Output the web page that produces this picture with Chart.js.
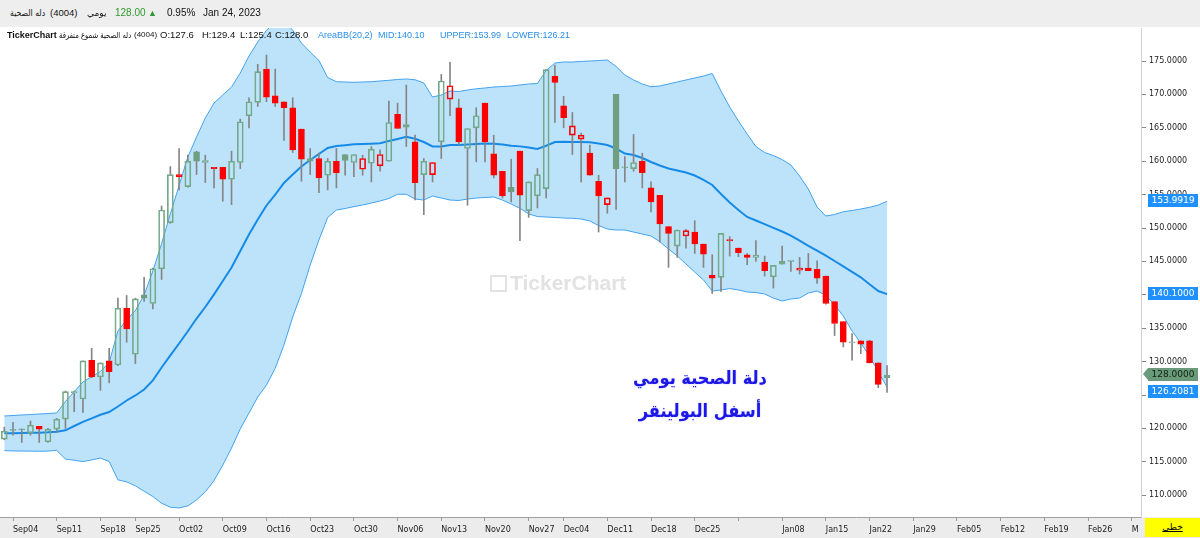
<!DOCTYPE html>
<html><head><meta charset="utf-8">
<script src="https://cdn.jsdelivr.net/npm/chart.js@4.4.1/dist/chart.umd.min.js"></script>
<style>
html,body{margin:0;padding:0;background:#fff;}
#wrap{position:relative;width:1200px;height:538px;overflow:hidden;background:#fff;font-family:"Liberation Sans",Arial,sans-serif;}
#hdr{position:absolute;left:0;top:0;width:1200px;height:27px;background:#eeeeee;}
#xbg{position:absolute;left:0;top:517px;width:1200px;height:21px;background:#ececec;}
#cbox{position:absolute;left:0;top:27px;width:1200px;height:511px;}
.t{position:absolute;white-space:nowrap;font-size:10px;line-height:12px;color:#111;}
.s{font-size:9.5px;}
.b{color:#2a8fe6;font-size:9px;}
.ar{unicode-bidi:isolate;direction:rtl;font-family:"DejaVu Sans",sans-serif;font-size:9px;transform-origin:0 50%;}
.lbl{position:absolute;left:1148px;width:50px;height:13px;line-height:13px;font-size:9px;font-family:"DejaVu Sans",sans-serif;text-align:center;color:#fff;background:#1e90ff;}
.note{position:absolute;left:600px;width:200px;text-align:center;font-family:"DejaVu Sans",sans-serif;font-weight:bold;font-size:18px;line-height:22px;color:#1c16e6;text-shadow:0 0 2px #c8c8ff;direction:rtl;transform:scaleX(0.9);}
</style></head>
<body>
<div id="wrap">
  <div id="hdr"></div>
  <div id="xbg"></div>
  <div id="cbox"><canvas id="c"></canvas></div>

  <span class="t ar" style="left:10px;top:7px;transform:scaleX(0.86);">دله الصحية</span>
  <span class="t s" style="left:50px;top:7px;">(4004)</span>
  <span class="t ar" style="left:87px;top:7px;">يومي</span>
  <span class="t" style="left:115px;top:7px;color:#2e9a2e;">128.00</span>
  <span class="t" style="left:148px;top:7px;color:#2e9a2e;font-size:9px;">▲</span>
  <span class="t" style="left:167px;top:7px;">0.95%</span>
  <span class="t" style="left:203px;top:7px;">Jan 24, 2023</span>

  <span class="t" style="left:7px;top:29px;font-weight:bold;font-size:9px;">TickerChart</span>
  <span class="t ar" style="left:59px;top:29px;font-size:8.5px;transform:scaleX(0.8);">دله الصحية شموع متفرقة</span>
  <span class="t" style="left:134px;top:29px;font-size:8px;">(4004)</span>
  <span class="t s" style="left:160px;top:29px;">O:127.6</span>
  <span class="t s" style="left:202px;top:29px;">H:129.4</span>
  <span class="t s" style="left:240px;top:29px;">L:125.4</span>
  <span class="t s" style="left:275px;top:29px;">C:128.0</span>
  <span class="t b" style="left:318px;top:29px;">AreaBB(20,2)</span>
  <span class="t b" style="left:378px;top:29px;">MID:140.10</span>
  <span class="t b" style="left:440px;top:29px;">UPPER:153.99</span>
  <span class="t b" style="left:507px;top:29px;">LOWER:126.21</span>

  <div style="position:absolute;left:490px;top:275px;width:13px;height:13px;border:2px solid #e2e2e2;"></div>
  <span class="t" style="left:510px;top:271px;font-size:21px;line-height:24px;font-weight:bold;color:#e2e2e2;">TickerChart</span>

  <div class="note" style="top:367px;">دلة الصحية يومي</div>
  <div class="note" style="top:400px;">أسفل البولينقر</div>

  <div style="position:absolute;left:1145px;top:518px;width:55px;height:19px;background:#ffff00;text-align:center;line-height:19px;font-size:9px;font-family:'DejaVu Sans',sans-serif;text-decoration:underline;">خطي</div>
  <div id="labels"></div>
</div>
<script>
// ---- data (daily candles, Aug 31 2022 .. Jan 24 2023) ----
const openP = [118.4,119.7,119.8,119.3,120.3,118.0,119.9,121.4,125.3,124.4,
130.2,127.7,130.1,129.5,138.0,131.1,140.0,138.7,143.9,150.8,
158.0,156.2,161.4,159.8,159.1,159.1,157.3,159.8,166.8,168.8,
173.8,169.8,168.9,168.0,164.8,160.0,160.4,157.9,160.0,161.0,
159.8,158.8,159.7,159.3,160.0,167.0,165.1,162.9,158.0,158.0,
162.9,169.3,168.0,161.9,165.0,168.7,161.1,158.5,156.1,161.5,
152.6,154.8,155.9,172.7,168.3,163.9,163.3,161.2,157.0,153.5,
170.0,159.0,158.9,160.0,156.0,154.9,150.2,147.3,148.8,149.4,
147.6,142.9,142.6,148.1,147.0,146.0,145.6,144.9,142.7,144.6,
145.0,143.7,144.0,143.8,142.8,139.0,136.0,132.8,133.1,133.1,
129.8,127.6];
const highP = [120.2,120.9,119.9,121.1,120.3,120.0,121.5,125.6,125.6,130.1,
132.0,129.8,132.0,139.5,139.9,139.5,142.6,144.0,153.3,159.2,
161.9,160.9,161.5,160.9,159.1,159.1,161.5,166.3,169.5,174.5,
175.9,173.8,168.9,169.5,164.8,161.9,161.2,160.4,161.9,161.0,
161.0,160.9,162.2,161.7,169.0,168.7,171.4,163.9,160.4,159.8,
173.0,174.8,169.3,164.9,168.0,168.7,163.9,158.5,160.3,161.5,
156.9,158.9,173.7,174.4,169.7,167.3,164.2,162.4,157.9,154.5,
170.0,160.7,164.0,161.2,156.9,154.9,150.2,149.7,149.8,151.1,
147.6,146.0,149.2,148.7,147.0,146.2,148.1,145.8,144.4,147.3,
145.0,145.6,146.2,145.1,142.8,139.0,136.0,134.2,133.1,133.2,
129.8,129.4];
const lowP = [118.3,119.0,117.9,119.0,117.9,117.9,119.4,120.0,122.5,122.4,
127.6,125.7,126.8,129.4,132.9,129.7,139.0,137.9,142.3,150.7,
155.7,156.1,158.0,156.8,156.0,154.0,153.5,158.9,165.0,168.2,
168.9,168.2,163.1,161.3,157.0,158.0,155.3,155.7,156.0,157.9,
157.7,157.9,156.9,158.5,160.0,164.9,162.2,154.2,152.0,156.9,
160.4,166.8,162.4,153.4,159.9,159.9,157.5,154.5,153.9,148.1,
151.6,153.0,154.5,165.8,165.0,161.0,156.9,157.9,149.4,152.2,
152.8,156.9,158.5,156.0,152.4,147.9,144.1,145.6,147.0,146.2,
144.1,140.2,140.5,145.8,145.7,144.5,145.0,142.8,141.0,144.6,
143.5,143.1,143.6,141.7,138.6,133.9,132.2,130.2,131.2,129.8,
126.1,125.4];
const closeP = [119.6,119.8,119.8,120.5,119.9,119.9,121.4,125.5,125.5,130.1,
127.7,129.8,128.5,138.0,134.9,139.4,139.5,143.9,152.7,158.0,
157.7,160.0,160.0,160.1,158.9,157.3,160.0,165.9,168.9,173.4,
169.6,168.7,168.0,161.7,160.3,160.4,157.5,160.0,158.3,160.1,
161.0,160.4,161.8,161.0,165.8,164.9,165.5,156.8,160.0,159.8,
172.0,171.3,162.9,164.9,166.8,162.9,157.9,154.8,155.4,154.9,
156.9,158.0,173.7,171.8,166.5,165.3,163.9,157.9,154.8,154.5,
158.9,159.0,159.8,158.3,153.9,150.6,149.2,149.7,149.6,147.6,
146.1,142.5,149.2,148.1,146.3,145.6,145.9,143.6,144.4,145.0,
145.0,144.0,143.6,142.5,138.7,135.7,132.9,132.9,132.6,129.8,
126.6,128.0];
// Bollinger band (20,2)
const bbUpper = [121.86,121.93,122.01,122.08,122.16,122.23,122.31,124.03,125.49,126.95,
127.74,128.52,129.87,134.58,136.23,137.65,139.97,143.56,147.68,152.10,
156.36,160.63,163.62,166.47,168.71,169.91,171.11,173.20,175.75,177.84,
179.6,180.8,181.0,179.6,177.69,176.35,175.07,172.53,171.90,171.86,
171.81,171.86,171.90,172.01,172.11,172.23,172.31,172.19,171.71,169.61,
169.91,170.51,170.43,170.66,170.84,170.96,171.11,171.18,171.26,171.41,
171.56,171.63,173.58,174.70,174.85,174.85,174.93,175.00,175.07,175.15,
174.18,172.90,172.16,171.56,171.15,171.26,171.56,171.86,172.16,172.46,
172.75,173.13,170.51,168.11,166.02,164.07,162.20,161.30,160.85,160.25,
159.43,157.78,155.84,153.14,151.80,152.02,152.44,152.62,152.84,153.10,
153.44,153.9919];
const bbMid = [119.27,119.28,119.31,119.34,119.37,119.42,119.51,119.72,120.36,120.99,
121.51,122.04,122.46,123.28,124.18,124.93,125.82,127.20,129.12,130.94,
132.71,134.54,136.45,138.17,140.07,142.07,144.09,146.56,149.03,151.27,
153.37,155.01,156.74,158.01,159.21,160.18,161.08,161.98,162.28,162.40,
162.53,162.57,162.63,162.68,163.02,163.32,163.65,163.35,162.87,162.20,
162.20,162.43,162.43,162.49,162.57,162.65,162.62,162.49,162.32,162.22,
162.05,161.84,162.31,162.87,162.90,162.87,162.86,162.83,162.65,162.43,
161.90,161.15,160.93,160.48,159.88,159.36,158.91,158.61,158.31,157.86,
157.19,156.44,155.09,153.82,152.69,151.65,151.12,150.57,150.03,149.48,
148.85,148.10,147.34,146.60,145.85,145.06,144.27,143.44,142.62,141.57,
140.57,140.1000];
const bbLower = [116.68,116.63,116.61,116.60,116.58,116.61,116.71,115.41,115.23,115.03,
115.28,115.56,115.05,112.30,112.00,111.40,110.60,109.80,108.80,108.20,
108.10,108.40,109.30,110.50,112.20,114.50,117.07,119.92,122.31,124.70,
126.50,129.00,132.48,136.68,140.20,144.46,148.20,151.57,152.69,152.92,
153.20,153.44,153.74,154.04,154.42,155.05,155.05,154.34,154.19,154.79,
154.49,154.19,154.12,154.34,154.49,154.57,154.64,154.19,153.59,152.95,
152.10,151.72,151.65,151.57,151.50,151.45,151.35,151.05,150.37,149.85,
149.70,149.70,149.40,149.10,148.80,147.95,146.86,145.81,144.61,143.41,
142.22,140.57,140.72,140.94,140.72,140.42,140.34,140.12,139.52,139.07,
139.37,139.52,140.27,140.57,139.97,138.47,136.83,134.58,132.78,130.84,
128.44,126.2081];
// axis ticks
const xTickIdx = [1,6,11,15,20,25,30,35,40,45,50,55,60,64,69,74,79,84,89,94,99,104,109,114,119,124,129];
const xTickLabels = ['Sep04','Sep11','Sep18','Sep25','Oct02','Oct09','Oct16','Oct23','Oct30','Nov06','Nov13','Nov20','Nov27','Dec04','Dec11','Dec18','Dec25','','Jan08','Jan15','Jan22','Jan29','Feb05','Feb12','Feb19','Feb26','M'];
const yTicks = [110,115,120,125,130,135,140,145,150,155,160,165,170,175];

// ---- build ----
const GREEN = '#6f9f80', GREEN_B = '#74a888', RED = '#ff0000', WICK = '#858585';
const n = closeP.length;
const idx = closeP.map((_, i) => i);
const isUp = i => closeP[i] >= openP[i];
const isGreen = i => i === 0 ? true : closeP[i] >= closeP[i - 1];
const bodyData = idx.map(i => ({x: i, y: [openP[i], closeP[i]]}));
const wickHi = idx.map(i => ({x: i, y: [Math.max(openP[i], closeP[i]), highP[i]]}));
const wickLo = idx.map(i => ({x: i, y: [lowP[i], Math.min(openP[i], closeP[i])]}));
const line = arr => arr.map((v, i) => ({x: i, y: v}));

const labelsPlugin = {
  id: 'axisLabels',
  afterRender(chart) {
    if (chart._lblDone) return; chart._lblDone = true;
    const ys = chart.scales.y, off = 27;
    const items = [
      {v: bbUpper[n-1], bg: '#1e90ff', fg: '#fff'},
      {v: bbMid[n-1], bg: '#1e90ff', fg: '#fff'},
      {v: closeP[n-1], bg: '#6a9a7a', fg: '#102010', arrow: true},
      {v: bbLower[n-1], bg: '#1e90ff', fg: '#fff'}
    ];
    const host = document.getElementById('labels');
    let prevBottom = -1e9;
    items.forEach(it => {
      let top = ys.getPixelForValue(it.v) + off - 7;
      if (top < prevBottom + 3) top = prevBottom + 3;
      prevBottom = top + 14;
      const d = document.createElement('div');
      d.className = 'lbl';
      d.style.top = top + 'px';
      d.style.background = it.bg; d.style.color = it.fg;
      d.textContent = it.v.toFixed(4);
      if (it.arrow) {
        const a = document.createElement('div');
        a.style.cssText = 'position:absolute;left:-5px;top:0;width:0;height:0;border-top:6.5px solid transparent;border-bottom:6.5px solid transparent;border-right:5px solid ' + it.bg + ';';
        d.appendChild(a);
      }
      host.appendChild(d);
    });
  }
};

new Chart(document.getElementById('c'), {
  type: 'bar',
  data: {
    datasets: [
      {type: 'line', data: line(bbUpper), borderColor: '#42a2f0', borderWidth: 1, pointRadius: 0, fill: 2, backgroundColor: '#bde3fb', order: 10},
      {type: 'line', data: line(bbMid), borderColor: '#168ae8', borderWidth: 2, pointRadius: 0, fill: false, order: 8},
      {type: 'line', data: line(bbLower), borderColor: '#42a2f0', borderWidth: 1, pointRadius: 0, fill: false, order: 9},
      {data: wickHi, backgroundColor: WICK, barThickness: 1, grouped: false, borderWidth: 0, order: 3},
      {data: wickLo, backgroundColor: WICK, barThickness: 1, grouped: false, borderWidth: 0, order: 3},
      {data: bodyData, barThickness: 6, grouped: false, minBarLength: 1, borderSkipped: false, borderWidth: 1, order: 1,
        backgroundColor: c => { const i = c.dataIndex; return isUp(i) ? 'rgba(255,255,255,0)' : (isGreen(i) ? GREEN : RED); },
        borderColor: c => { const i = c.dataIndex; return isGreen(i) ? (isUp(i) ? GREEN_B : GREEN) : RED; }
      }
    ]
  },
  options: {
    responsive: true, maintainAspectRatio: false, animation: false,
    layout: {padding: {top: 1, left: 0, right: 0, bottom: 0}},
    plugins: {legend: {display: false}, tooltip: {enabled: false}},
    elements: {line: {tension: 0}},
    scales: {
      x: {type: 'linear', min: -0.49, max: 130.06, offset: false,
        afterBuildTicks: ax => { ax.ticks = xTickIdx.map(v => ({value: v})); },
        afterFit: ax => { ax.height = 21; ax.paddingLeft = 0; ax.paddingRight = 0; },
        ticks: {autoSkip: false, maxRotation: 0, minRotation: 0, align: 'start', padding: 4, color: '#222',
          font: {family: 'DejaVu Sans', size: 8}, callback: (v, i) => xTickLabels[i]},
        grid: {drawOnChartArea: false, drawTicks: true, tickLength: 4, color: '#9a9a9a', offset: false},
        border: {display: true, color: '#a0a0a0', width: 1}
      },
      y: {type: 'linear', position: 'right', min: 106.74, max: 179.94,
        afterBuildTicks: ax => { ax.ticks = yTicks.map(v => ({value: v})); },
        afterFit: ax => { ax.width = 59; ax.paddingTop = 0; ax.paddingBottom = 0; },
        ticks: {padding: 3, color: '#222', font: {family: 'DejaVu Sans', size: 8}, callback: v => Number(v).toFixed(4)},
        grid: {drawOnChartArea: false, drawTicks: true, tickLength: 5, color: '#8a8a8a'},
        border: {display: true, color: '#d0d0d0'}
      }
    }
  },
  plugins: [labelsPlugin]
});
</script>
</body></html>
